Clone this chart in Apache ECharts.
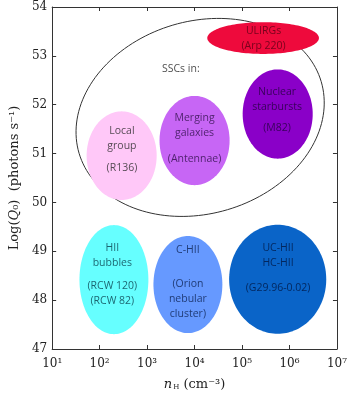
<!DOCTYPE html>
<html>
<head>
<meta charset="utf-8">
<script src="https://cdn.jsdelivr.net/npm/echarts@6/dist/echarts.min.js"></script>
<style>
html,body{margin:0;padding:0;background:#fff;}
#chart{width:350px;height:396px;}
</style>
</head>
<body>
<div id="chart"></div>
<script>
// ---- data ----
const xTickExponents = [1, 2, 3, 4, 5, 6, 7];
const yTicks = [47, 48, 49, 50, 51, 52, 53, 54];

// filled regions: centre n_H (cm^-3), centre log Q0, half-width (dex), half-height (log Q0)
const regionNames = ['ULIRGs', 'Local group', 'Merging galaxies', 'Nuclear starbursts', 'HII bubbles', 'C-HII', 'UC-HII / HC-HII'];
const regionCenterNH = [2.78e5, 291, 1.0e4, 5.64e5, 200, 7240, 5.64e5];
const regionCenterLogQ = [53.365, 50.957, 51.267, 51.809, 48.42, 48.32, 48.427];
const regionHalfWidthDex = [1.176, 0.738, 0.738, 0.738, 0.726, 0.726, 1.023];
const regionHalfHeight = [0.325, 0.907, 0.913, 0.913, 1.116, 0.994, 1.116];
const regionColors = ['#EE0A3C', '#FFC8F8', '#C766F5', '#8A00C8', '#66FFFF', '#6699FF', '#0A64C8'];

// SSC envelope (outline): centre, semi-axes, tilt (deg)
const envelopeCenterNH = [1.31e4];
const envelopeCenterLogQ = [51.74];
const envelopeSemiMajorDex = [2.66];
const envelopeSemiMinor = [1.97];
const envelopeTiltDeg = [16.5];

// text labels: anchor n_H, anchor log Q0, text, colour
const labelNH = [2.84e5, 5140, 295, 295, 1.0e4, 1.0e4, 5.48e5, 5.48e5, 185, 185, 7240, 7240, 5.74e5, 5.74e5];
const labelLogQ = [53.365, 52.722, 51.302, 50.713, 51.572, 50.882, 52.103, 51.519, 48.908, 48.141, 49.036, 48.021, 48.908, 48.258];
const labelTexts = ['ULIRGs\n(Arp 220)', 'SSCs in:', 'Local\ngroup', '(R136)', 'Merging\ngalaxies', '(Antennae)',
  'Nuclear\nstarbursts', '(M82)', 'HII\nbubbles', '(RCW 120)\n(RCW 82)', 'C-HII', '(Orion\nnebular\ncluster)',
  'UC-HII\nHC-HII', '(G29.96-0.02)'];
const labelColors = ['#5a0014', '#1a1a1a', '#2a2a2a', '#2a2a2a', '#30104a', '#30104a', '#240040', '#240040',
  '#083c4a', '#083c4a', '#0c2250', '#0c2250', '#011844', '#011844'];

// ---- chart ----
const supDigits = {'0':'⁰','1':'¹','2':'²','3':'³','4':'⁴','5':'⁵','6':'⁶','7':'⁷','8':'⁸','9':'⁹'};
const chart = echarts.init(document.getElementById('chart'));
const serif = 'DejaVu Serif';
const axisCol = '#333';

function ellipsePoints(cx, cy, a, b, theta, n) {
  const pts = [];
  for (let i = 0; i < n; i++) {
    const t = (i / n) * Math.PI * 2;
    const u = a * Math.cos(t), v = b * Math.sin(t);
    pts.push([cx + u * Math.cos(theta) - v * Math.sin(theta), cy - (u * Math.sin(theta) + v * Math.cos(theta))]);
  }
  return pts;
}

const xBase = {
  type: 'log', logBase: 10, min: 10, max: 1e7, splitNumber: 6,
  axisLine: {show: true, onZero: false, lineStyle: {color: axisCol, width: 1}},
  axisTick: {show: true, inside: true, length: 4, lineStyle: {color: axisCol}},
  splitLine: {show: false}, minorTick: {show: false}
};
const yBase = {
  type: 'value', min: 47, max: 54, interval: 1,
  axisLine: {show: true, onZero: false, lineStyle: {color: axisCol, width: 1}},
  axisTick: {show: true, inside: true, length: 4, lineStyle: {color: axisCol}},
  splitLine: {show: false}
};

const option = {
  animation: false,
  grid: {left: 47.7, right: 7.3, top: 7, bottom: 44, containLabel: false},
  xAxis: [
    Object.assign({}, xBase, {
      position: 'bottom',
      axisLabel: {
        margin: 9, color: '#222', fontFamily: serif, fontSize: 12,
        formatter: v => '10' + String(Math.round(Math.log10(v))).split('').map(d => supDigits[d]).join('')
      },
      name: '{i|n}{s|H}{a| (cm⁻³)}', nameLocation: 'middle', nameGap: 29,
      nameTextStyle: {
        rich: {
          i: {fontFamily: serif, fontStyle: 'italic', fontSize: 13, color: '#222'},
          s: {fontFamily: serif, fontSize: 7, color: '#222', padding: [6, 0, 0, 1]},
          a: {fontFamily: serif, fontSize: 13, color: '#222'}
        }
      }
    }),
    Object.assign({}, xBase, {position: 'top', axisLabel: {show: false}})
  ],
  yAxis: [
    Object.assign({}, yBase, {
      position: 'left',
      axisLabel: {margin: 5, color: '#222', fontFamily: serif, fontSize: 12},
      name: '{a|Log(}{i|Q}{a|₀)  (photons s⁻¹)}', nameLocation: 'middle', nameGap: 28,
      nameTextStyle: {
        rich: {
          i: {fontFamily: serif, fontStyle: 'italic', fontSize: 13, color: '#222'},
          a: {fontFamily: serif, fontSize: 13, color: '#222'}
        }
      }
    }),
    Object.assign({}, yBase, {position: 'right', axisLabel: {show: false}})
  ],
  series: [
    {
      type: 'custom', silent: true, z: 1,
      data: envelopeCenterNH.map((nh, i) => [nh, envelopeCenterLogQ[i], envelopeSemiMajorDex[i], envelopeSemiMinor[i], envelopeTiltDeg[i]]),
      renderItem: function (params, api) {
        const nh = api.value(0), q = api.value(1);
        const c = api.coord([nh, q]);
        const pxPerDex = api.coord([nh * 10, q])[0] - c[0];
        const pxPerUnit = c[1] - api.coord([nh, q + 1])[1];
        const a = api.value(2) * pxPerDex, b = api.value(3) * pxPerUnit;
        const th = api.value(4) * Math.PI / 180;
        return {
          type: 'polygon',
          shape: {points: ellipsePoints(c[0], c[1], a, b, th, 160)},
          style: {fill: 'none', stroke: '#333', lineWidth: 1}
        };
      }
    },
    {
      type: 'custom', silent: true, z: 2,
      data: regionNames.map((n, i) => ({
        name: n,
        value: [regionCenterNH[i], regionCenterLogQ[i], regionHalfWidthDex[i], regionHalfHeight[i]],
        itemStyle: {color: regionColors[i]}
      })),
      renderItem: function (params, api) {
        const nh = api.value(0), q = api.value(1);
        const c = api.coord([nh, q]);
        const rx = api.coord([nh * Math.pow(10, api.value(2)), q])[0] - c[0];
        const ry = c[1] - api.coord([nh, q + api.value(3)])[1];
        return {
          type: 'polygon',
          shape: {points: ellipsePoints(c[0], c[1], rx, ry, 0, 140)},
          style: {fill: api.visual('color'), stroke: 'none'}
        };
      }
    },
    {
      type: 'scatter', silent: true, z: 3, symbolSize: 0,
      data: labelTexts.map((t, i) => ({
        value: [labelNH[i], labelLogQ[i], t],
        label: {color: labelColors[i]}
      })),
      label: {
        show: true, position: 'inside', formatter: p => p.value[2],
        fontFamily: 'Open Sans', fontSize: 10.5, lineHeight: 15, align: 'center', verticalAlign: 'middle'
      },
      emphasis: {disabled: true}
    }
  ]
};
chart.setOption(option);
</script>
</body>
</html>
